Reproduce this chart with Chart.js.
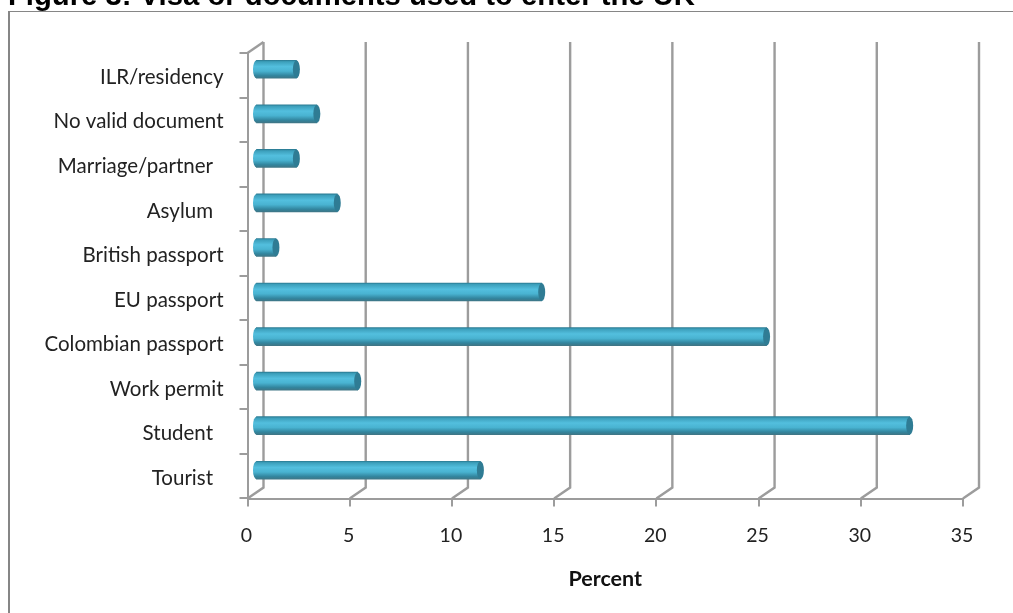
<!DOCTYPE html>
<html>
<head>
<meta charset="utf-8">
<title>Figure 3</title>
<style>
    html, body { margin: 0; padding: 0; background: #fff; overflow: hidden; }
    canvas { display: block; }
</style>
<script src="https://cdn.jsdelivr.net/npm/chart.js@4"></script>
</head>
<body>
<canvas id="visaChart" width="1013" height="613"></canvas>
<script>
const categories = ['ILR/residency', 'No valid document', 'Marriage/partner  ', 'Asylum  ', 'British passport',
    'EU passport', 'Colombian passport', 'Work permit', 'Student  ', 'Tourist  '];
const percents = [2, 3, 2, 4, 1, 14, 25, 5, 32, 11];
const xTicks = [0, 5, 10, 15, 20, 25, 30, 35];
const chartTitle = 'Figure 3: Visa or documents used to enter the UK';
const axisTitle = 'Percent';

const gridColor = '#9c9c9c';
const depthX = 16, depthY = -11;   // fake 3D wall offset
const barShiftX = 8, barShiftY = -6;
const capRadius = 3.5;

function tubeGradient(ctx, top, bottom) {
    const g = ctx.createLinearGradient(0, top, 0, bottom);
    g.addColorStop(0, '#2b7c94');
    g.addColorStop(0.08, '#3c9fbb');
    g.addColorStop(0.35, '#53bfde');
    g.addColorStop(0.6, '#49b3d1');
    g.addColorStop(0.85, '#32859e');
    g.addColorStop(1, '#3f7686');
    return g;
}

const wallPlugin = {
    id: 'wall',
    beforeDraw(chart) {
        const ctx = chart.ctx;
        ctx.save();
        ctx.fillStyle = '#fff';
        ctx.fillRect(0, 0, chart.width, chart.height);
        // outer frame
        ctx.fillStyle = '#868686';
        ctx.fillRect(8, 11, chart.width - 8, 1);
        ctx.fillRect(8, 11, 2, chart.height - 11);
        // title sits partly above the picture edge
        ctx.fillStyle = '#000';
        ctx.font = 'bold 29.25px "Liberation Sans"';
        ctx.textBaseline = 'alphabetic';
        ctx.fillText(chartTitle, 8, 5);
        ctx.restore();
    },
    beforeDatasetsDraw(chart) {
        const ctx = chart.ctx;
        const { x, y } = chart.scales;
        ctx.save();
        ctx.strokeStyle = gridColor;
        ctx.lineWidth = 2.4;
        xTicks.forEach(v => {
            const px = x.getPixelForValue(v);
            ctx.beginPath();
            ctx.moveTo(px, y.bottom);
            ctx.lineTo(px + depthX, y.bottom + depthY);
            ctx.lineTo(px + depthX, y.top + depthY);
            ctx.stroke();
        });
        // top of the left wall
        ctx.beginPath();
        ctx.moveTo(x.left, y.top);
        ctx.lineTo(x.left + depthX, y.top + depthY);
        ctx.stroke();
        ctx.restore();
        // the tubes stand off the wall a little
        ctx.save();
        ctx.translate(barShiftX, barShiftY);
    },
    afterDatasetsDraw(chart) {
        const ctx = chart.ctx;
        chart.getDatasetMeta(0).data.forEach(bar => {
            const h = bar.height / 2;
            ctx.fillStyle = tubeGradient(ctx, bar.y - h, bar.y + h);
            ctx.beginPath();
            ctx.ellipse(bar.base, bar.y, capRadius, h, 0, 0, Math.PI * 2);
            ctx.fill();
            ctx.beginPath();
            ctx.ellipse(bar.x, bar.y, capRadius, h, 0, 0, Math.PI * 2);
            ctx.fillStyle = '#2f7c94';
            ctx.fill();
        });
        ctx.restore();
    }
};

new Chart(document.getElementById('visaChart').getContext('2d'), {
    type: 'bar',
    plugins: [wallPlugin],
    data: {
        labels: categories,
        datasets: [{
            data: percents,
            barThickness: 18,
            borderWidth: 0,
            backgroundColor(context) {
                const scale = context.chart.scales.y;
                const mid = scale ? scale.getPixelForValue(context.dataIndex) : NaN;
                if (!Number.isFinite(mid)) return '#4fbcdc';
                return tubeGradient(context.chart.ctx, mid - 9, mid + 9);
            }
        }]
    },
    options: {
        indexAxis: 'y',
        responsive: false,
        animation: false,
        layout: { padding: { top: 53, right: 50, left: 0, bottom: 0 } },
        plugins: { legend: { display: false }, tooltip: { enabled: false } },
        scales: {
            x: {
                min: 0,
                max: 35,
                afterFit(s) { s.height = 114.5; },
                afterBuildTicks(s) { s.ticks = xTicks.map(v => ({ value: v })); },
                grid: { drawOnChartArea: false, drawTicks: true, tickLength: 8, color: gridColor, lineWidth: 2 },
                border: { color: gridColor, width: 2 },
                ticks: { color: '#222', padding: 18, labelOffset: -1, maxRotation: 0, font: { family: 'Lato', size: 19.5 } },
                title: {
                    display: true,
                    text: axisTitle,
                    color: '#111',
                    padding: { top: 0, bottom: 21 },
                    font: { family: 'Lato', size: 21.5, weight: 'bold' }
                }
            },
            y: {
                afterFit(s) { s.width = 247.5; },
                grid: { drawOnChartArea: false, drawTicks: true, tickLength: 8, color: gridColor, lineWidth: 2 },
                border: { color: gridColor, width: 2 },
                ticks: { color: '#222', padding: 16, labelOffset: 2, autoSkip: false, font: { family: 'Lato', size: 20.5 } }
            }
        }
    }
});
</script>
</body>
</html>
